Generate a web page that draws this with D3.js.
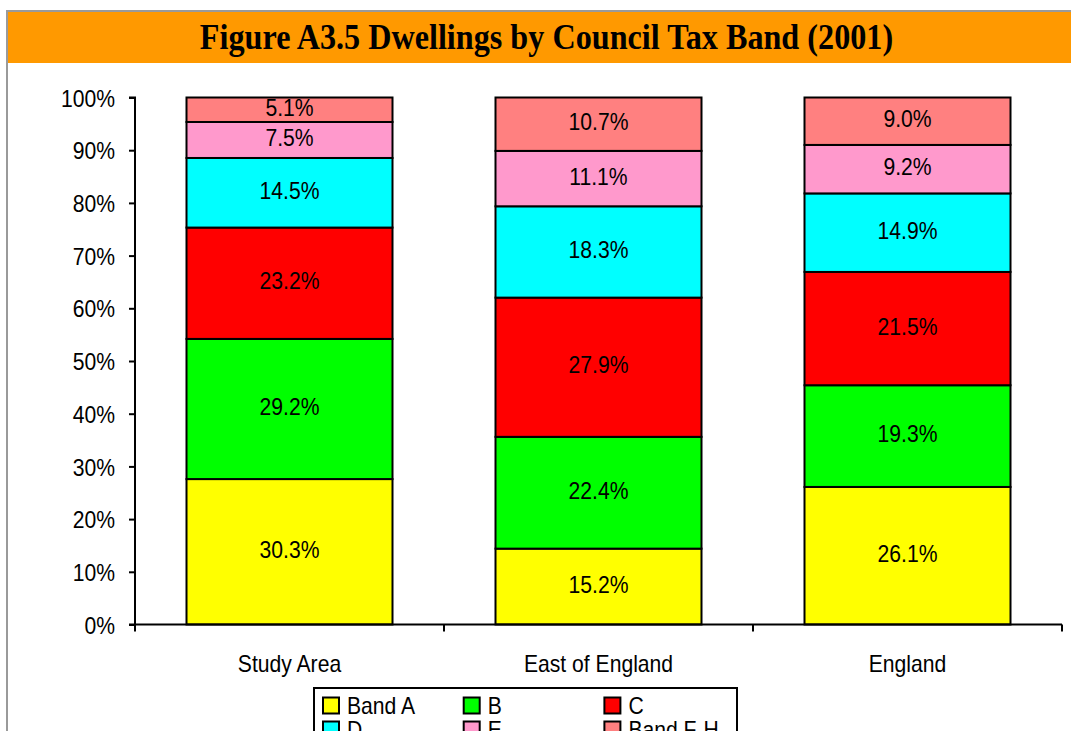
<!DOCTYPE html>
<html>
<head>
<meta charset="utf-8">
<script src="https://cdn.jsdelivr.net/npm/d3@7/dist/d3.min.js"></script>
<style>
  html, body { margin: 0; padding: 0; background: #fff; }
  svg { display: block; }
  .lbl { font-family: "Liberation Sans", Arial, sans-serif; font-size: 24px; fill: #000; }
  .title { font-family: "Liberation Serif", "Times New Roman", serif; font-size: 36px; font-weight: bold; fill: #000; }
</style>
</head>
<body>
<svg id="chart" width="1071" height="731"></svg>
<script>
// Council tax band shares (%) for each area
const areas = ["Study Area", "East of England", "England"];
const bands = ["Band A", "B", "C", "D", "E", "Band F-H"];
const bandA = [30.3, 15.2, 26.1];
const bandB = [29.2, 22.4, 19.3];
const bandC = [23.2, 27.9, 21.5];
const bandD = [14.5, 18.3, 14.9];
const bandE = [7.5, 11.1, 9.2];
const bandFH = [5.1, 10.7, 9.0];
const yTicks = [0, 10, 20, 30, 40, 50, 60, 70, 80, 90, 100];
const colors = ["#FFFF00", "#00FF00", "#FF0000", "#00FFFF", "#FF99CC", "#FF8080"];

const series = [bandA, bandB, bandC, bandD, bandE, bandFH];
const rows = areas.map((a, i) => {
  const r = { area: a };
  bands.forEach((b, j) => { r[b] = series[j][i]; });
  return r;
});

const svg = d3.select("#chart");
const W = 1071, H = 731;
const squeeze = 0.88;      // narrow text rendering
const titleSqueeze = 0.894;

// frame and title band
svg.append("rect").attr("x", 0).attr("y", 0).attr("width", W).attr("height", H).attr("fill", "#fff");
svg.append("line").attr("x1", 7).attr("x2", W).attr("y1", 11).attr("y2", 11)
  .attr("stroke", "#9a9a9a").attr("stroke-width", 2);
svg.append("line").attr("x1", 7).attr("x2", 7).attr("y1", 10).attr("y2", H)
  .attr("stroke", "#9a9a9a").attr("stroke-width", 2);
svg.append("rect").attr("x", 8).attr("y", 12).attr("width", W - 8).attr("height", 51).attr("fill", "#FF9900");
svg.append("text").attr("class", "title").attr("x", 546.5).attr("y", 49)
  .attr("text-anchor", "middle").text("Figure A3.5 Dwellings by Council Tax Band (2001)");

// scales
const x = d3.scaleBand().domain(areas).range([135, 1062]).paddingInner(0).paddingOuter(0);
const y = d3.scaleLinear().domain([0, 100]).range([624.5, 97.5]);
const barW = x.bandwidth() * 2 / 3;

// 100% stacking
const stack = d3.stack().keys(bands).offset(d3.stackOffsetExpand);
const layers = stack(rows);

const g = svg.append("g");
layers.forEach((layer, j) => {
  g.selectAll(null).data(layer).enter().append("rect")
    .attr("x", d => x(d.data.area) + (x.bandwidth() - barW) / 2)
    .attr("width", barW)
    .attr("y", d => y(d[1] * 100))
    .attr("height", d => y(d[0] * 100) - y(d[1] * 100))
    .attr("fill", colors[j])
    .attr("stroke", "#000").attr("stroke-width", 2);
});
layers.forEach((layer, j) => {
  g.selectAll(null).data(layer).enter().append("text")
    .attr("class", "lbl")
    .attr("x", d => x(d.data.area) + x.bandwidth() / 2)
    .attr("y", d => (y(d[0] * 100) + y(d[1] * 100)) / 2 + 6)
    .attr("text-anchor", "middle")
    .text(d => d.data[layer.key].toFixed(1) + "%");
});

// y axis
const yAxis = d3.axisLeft(y).tickValues(yTicks).tickSize(6).tickPadding(14)
  .tickFormat(d => d + "%");
const ya = svg.append("g").attr("transform", "translate(135,0)").call(yAxis);
ya.select(".domain").attr("stroke", "#000").attr("stroke-width", 2).attr("d", "M-6,97.5H0V624.5H-6");
ya.selectAll(".tick line").attr("stroke", "#000").attr("stroke-width", 2);
ya.selectAll(".tick text").attr("class", "lbl").attr("dy", "0.36em");
ya.attr("font-size", null).attr("font-family", null);

// x axis with ticks at category boundaries
const xa = svg.append("g").attr("transform", "translate(0,624.5)");
xa.append("line").attr("x1", 135).attr("x2", 1062).attr("y1", 0).attr("y2", 0)
  .attr("stroke", "#000").attr("stroke-width", 2);
const edges = areas.map(a => x(a)).concat([x.range()[1]]);
xa.selectAll(null).data(edges).enter().append("line")
  .attr("x1", d => d).attr("x2", d => d).attr("y1", 0).attr("y2", 7)
  .attr("stroke", "#000").attr("stroke-width", 2);
xa.selectAll(null).data(areas).enter().append("text")
  .attr("class", "lbl")
  .attr("x", d => x(d) + x.bandwidth() / 2)
  .attr("y", 47.5)
  .attr("text-anchor", "middle")
  .text(d => d);

// legend (two rows of three, running past the lower edge)
const lg = svg.append("g");
lg.append("rect").attr("x", 314).attr("y", 688).attr("width", 423).attr("height", 60)
  .attr("fill", "#fff").attr("stroke", "#000").attr("stroke-width", 2);
bands.forEach((b, j) => {
  const col = j % 3, row = Math.floor(j / 3);
  const lx = 323 + col * 140.7, ly = 697.5 + row * 24;
  lg.append("rect").attr("x", lx).attr("y", ly).attr("width", 16).attr("height", 16)
    .attr("fill", colors[j]).attr("stroke", "#000").attr("stroke-width", 2);
  lg.append("text").attr("class", "lbl").attr("x", lx + 24).attr("y", ly + 16.5).text(b);
});

// horizontally condense all text
svg.selectAll("text").each(function () {
  const len = this.getComputedTextLength();
  const k = this.classList.contains("title") ? titleSqueeze : squeeze;
  d3.select(this).attr("textLength", len * k).attr("lengthAdjust", "spacingAndGlyphs");
});
</script>
</body>
</html>
